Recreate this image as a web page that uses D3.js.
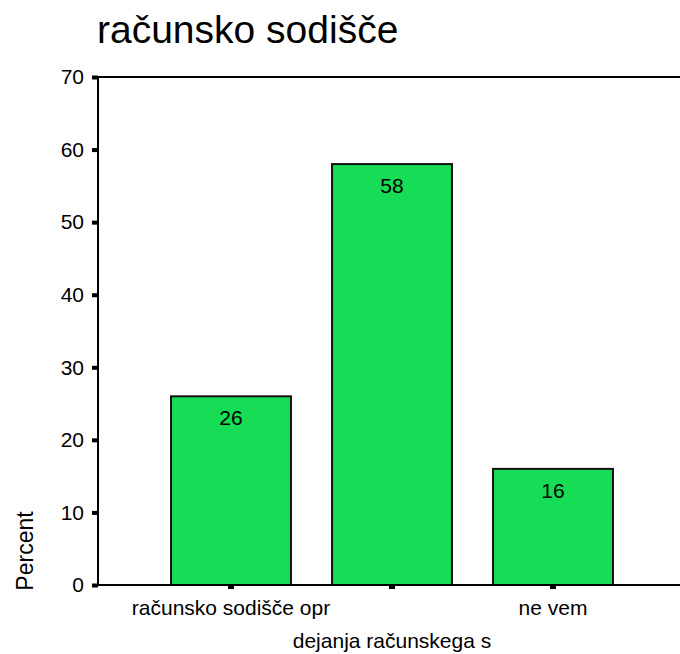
<!DOCTYPE html>
<html>
<head>
<meta charset="utf-8">
<script src="https://cdn.jsdelivr.net/npm/d3@7"></script>
<style>
  body { margin: 0; background: #fff; }
  text { font-family: Arial, "Liberation Sans", sans-serif; fill: #000; }
</style>
</head>
<body>
<div id="chart"></div>
<script>
// Data
const categories = ["računsko sodišče opr", "računsko sodišče drugo", "ne vem"];
const tickLabels = ["računsko sodišče opr", "", "ne vem"];
const percents = [26, 58, 16];
const yTicks = [0, 10, 20, 30, 40, 50, 60, 70];

const W = 680, H = 654;
const margin = {top: 77, right: 0, bottom: 69, left: 98};
const width = W - margin.left - margin.right;
const height = H - margin.top - margin.bottom;

const svg = d3.select("#chart").append("svg")
    .attr("width", W)
    .attr("height", H);

const g = svg.append("g")
    .attr("transform", `translate(${margin.left},${margin.top})`);

// Scales
const x = d3.scaleBand()
    .domain(categories)
    .range([52.5, 535.5])
    .paddingInner(0.255)
    .paddingOuter(0.1275);

const y = d3.scaleLinear()
    .domain([0, 70])
    .range([height, 0]);

// Bars
g.selectAll("rect.bar")
  .data(categories)
  .enter().append("rect")
    .attr("class", "bar")
    .attr("x", d => x(d))
    .attr("y", (d, i) => y(percents[i]))
    .attr("width", x.bandwidth())
    .attr("height", (d, i) => height - y(percents[i]))
    .attr("fill", "#17dc55")
    .attr("stroke", "#111")
    .attr("stroke-width", 2);

// Value labels
g.selectAll("text.val")
  .data(categories)
  .enter().append("text")
    .attr("class", "val")
    .attr("x", d => x(d) + x.bandwidth() / 2)
    .attr("y", (d, i) => y(percents[i]) + 29)
    .attr("text-anchor", "middle")
    .attr("font-size", 21)
    .text((d, i) => percents[i]);

// Frame lines (left, top, bottom)
g.append("line")
    .attr("x1", 0).attr("x2", 0)
    .attr("y1", 0).attr("y2", height)
    .attr("stroke", "#000").attr("stroke-width", 2);
g.append("line")
    .attr("x1", 0).attr("x2", width)
    .attr("y1", 0).attr("y2", 0)
    .attr("stroke", "#000").attr("stroke-width", 2);
g.append("line")
    .attr("x1", 0).attr("x2", width)
    .attr("y1", height).attr("y2", height)
    .attr("stroke", "#000").attr("stroke-width", 2);

// Y axis
const yAxis = g.append("g")
    .call(d3.axisLeft(y).tickValues(yTicks).tickSize(0).tickPadding(14));
yAxis.select(".domain").remove();
yAxis.selectAll("text")
    .attr("font-size", 21)
    .attr("font-family", "Arial, 'Liberation Sans', sans-serif");
yAxis.selectAll(".tick").append("rect")
    .attr("x", -6).attr("y", -2)
    .attr("width", 6).attr("height", 4)
    .attr("fill", "#000");

// X axis
const xAxis = g.append("g")
    .attr("transform", `translate(0,${height})`)
    .call(d3.axisBottom(x).tickSize(0).tickPadding(15)
        .tickFormat((d, i) => tickLabels[i]));
xAxis.select(".domain").remove();
xAxis.selectAll("text")
    .attr("font-size", 21)
    .attr("font-family", "Arial, 'Liberation Sans', sans-serif");
xAxis.selectAll(".tick").append("rect")
    .attr("x", -3).attr("y", 0)
    .attr("width", 6).attr("height", 4)
    .attr("fill", "#000");

// Title
svg.append("text")
    .attr("x", 97)
    .attr("y", 43)
    .attr("font-size", 39)
    .text("računsko sodišče");

// Axis titles
svg.append("text")
    .attr("x", 392)
    .attr("y", 648)
    .attr("text-anchor", "middle")
    .attr("font-size", 21)
    .text("dejanja računskega s");

svg.append("text")
    .attr("transform", "rotate(-90)")
    .attr("x", -551)
    .attr("y", 33)
    .attr("text-anchor", "middle")
    .attr("font-size", 23)
    .text("Percent");
</script>
</body>
</html>
